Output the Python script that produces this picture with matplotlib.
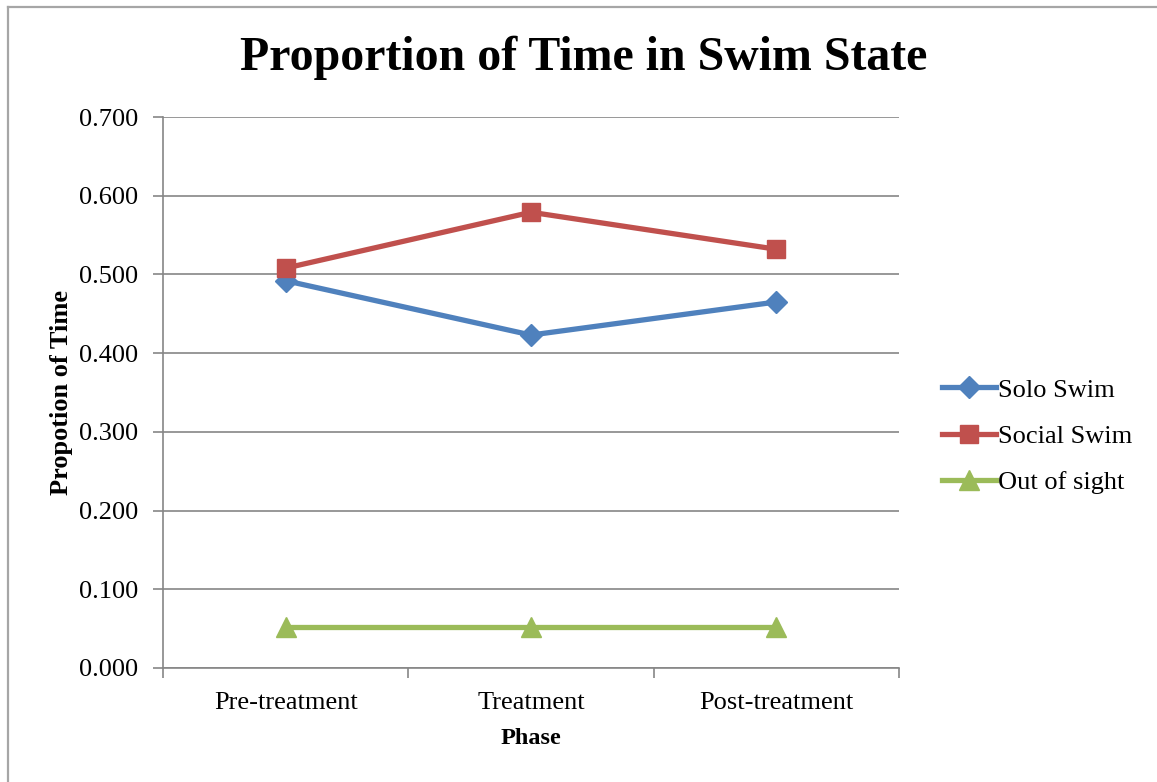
import matplotlib.pyplot as plt
from matplotlib.lines import Line2D
from matplotlib.ticker import FixedLocator

phases = ['Pre-treatment', 'Treatment', 'Post-treatment']
solo_swim = [0.492, 0.423, 0.465]
social_swim = [0.508, 0.579, 0.532]
out_of_sight = [0.052, 0.052, 0.052]
yticks = [0.0, 0.1, 0.2, 0.3, 0.4, 0.5, 0.6, 0.7]

plt.rcParams['font.family'] = ['Liberation Serif', 'DejaVu Serif']

fig = plt.figure(figsize=(11.57, 7.82), dpi=100)
ax = fig.add_axes([163 / 1157, 1 - 668 / 782, (899 - 163) / 1157, (668 - 117) / 782])

x = range(len(phases))
ax.plot(x, solo_swim, color='#4F81BD', lw=3.8, marker='D', ms=11, label='Solo Swim')
ax.plot(x, social_swim, color='#C0504D', lw=3.8, marker='s', ms=13, label='Social Swim')
ax.plot(x, out_of_sight, color='#9BBB59', lw=3.8, marker='^', ms=14, label='Out of sight')

ax.set_xlim(-0.5, len(phases) - 0.5)
ax.set_ylim(0, 0.7)
ax.set_yticks(yticks)
ax.set_yticklabels(['%.3f' % v for v in yticks], fontsize=19)
ax.set_xticks(list(x))
ax.set_xticklabels(phases, fontsize=19)
ax.tick_params(axis='x', which='major', length=0, pad=17)
ax.xaxis.set_minor_locator(FixedLocator([-0.5, 0.5, 1.5, 2.5]))
ax.tick_params(axis='x', which='minor', length=7, color='#868686', width=1.2)
ax.tick_params(axis='y', length=7, color='#868686', width=1.2, pad=11)

ax.grid(axis='y', color='#868686', lw=1.2)
ax.set_axisbelow(True)
for side in ['top', 'right']:
    ax.spines[side].set_visible(False)
for side in ['left', 'bottom']:
    ax.spines[side].set_color('#868686')
    ax.spines[side].set_linewidth(1.2)

ax.set_xlabel('Phase', fontsize=17.5, fontweight='bold', labelpad=10)
ax.set_ylabel('Propotion of Time', fontsize=19, fontweight='bold', labelpad=4)
fig.text(584 / 1157, 1 - 58 / 782, 'Proportion of Time in Swim State',
         fontsize=34.5, fontweight='bold', ha='center', va='center')

fig.legend(loc='center left', bbox_to_anchor=(918 / 1157, 1 - 436 / 782),
           frameon=False, fontsize=19, handlelength=2.05, handletextpad=0.1,
           labelspacing=0.86)

# chart frame
fig.add_artist(Line2D([8 / 1157, 8 / 1157], [0, 1 - 7 / 782], color='#A6A6A6', lw=1.6))
fig.add_artist(Line2D([8 / 1157, 1], [1 - 7 / 782, 1 - 7 / 782], color='#A6A6A6', lw=1.6))

fig.savefig('out.png', dpi=100)
